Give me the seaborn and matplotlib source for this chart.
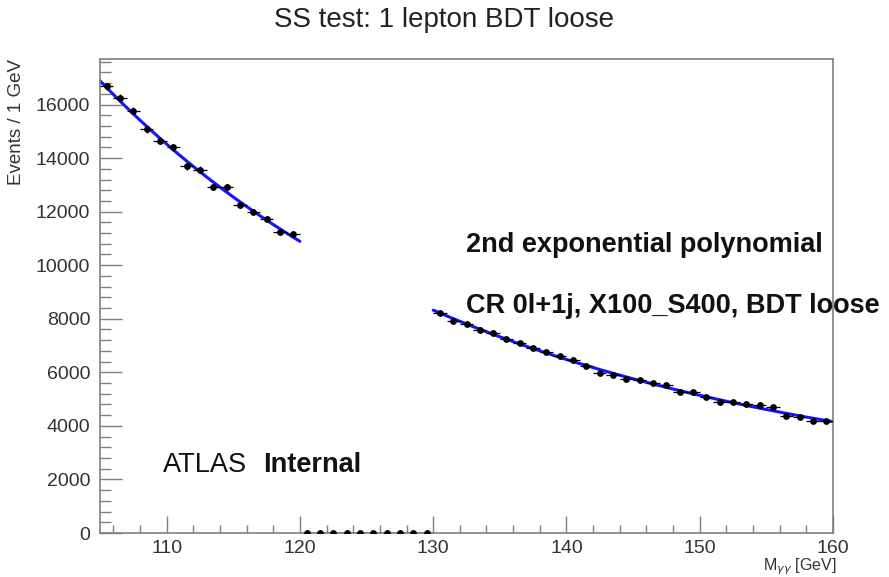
import numpy as np
import pandas as pd
import matplotlib
matplotlib.use("Agg")
import matplotlib.pyplot as plt
from matplotlib.ticker import MultipleLocator
import seaborn as sns

# Diphoton mass spectrum, 1 GeV bins (bin centres)
mass_low = [105.5, 106.5, 107.5, 108.5, 109.5, 110.5, 111.5, 112.5, 113.5, 114.5,
            115.5, 116.5, 117.5, 118.5, 119.5]
events_low = [16680, 16250, 15770, 15070, 14650, 14400, 13690, 13570, 12910, 12910,
              12230, 12000, 11720, 11250, 11170]

mass_blind = [120.5, 121.5, 122.5, 123.5, 124.5, 125.5, 126.5, 127.5, 128.5, 129.5]
events_blind = [0] * 10

mass_high = [130.5, 131.5, 132.5, 133.5, 134.5, 135.5, 136.5, 137.5, 138.5, 139.5,
             140.5, 141.5, 142.5, 143.5, 144.5, 145.5, 146.5, 147.5, 148.5, 149.5,
             150.5, 151.5, 152.5, 153.5, 154.5, 155.5, 156.5, 157.5, 158.5, 159.5]
events_high = [8220, 7900, 7820, 7590, 7480, 7260, 7080, 6900, 6760, 6600,
               6450, 6240, 5980, 5910, 5750, 5730, 5590, 5520, 5250, 5280,
               5070, 4910, 4910, 4810, 4780, 4690, 4380, 4320, 4170, 4170]

title = "SS test: 1 lepton BDT loose"
x_label = r"M$_{\gamma\gamma}$ [GeV]"
y_label = "Events / 1 GeV"

data = pd.DataFrame({
    "mass": mass_low + mass_blind + mass_high,
    "events": events_low + events_blind + events_high,
})

# Sideband fit: exp(p0 + p1*t + p2*t^2), t = m - 130
side = data[data["events"] > 0]
t = side["mass"].to_numpy() - 130.0
w = np.sqrt(side["events"].to_numpy())
coef = np.polyfit(t, np.log(side["events"].to_numpy()), 2, w=w)

def fit_curve(lo, hi):
    m = np.linspace(lo, hi, 200)
    return pd.DataFrame({"mass": m, "events": np.exp(np.polyval(coef, m - 130.0))})

sns.set_style("white")
plt.rcParams["font.family"] = ["Liberation Sans", "DejaVu Sans"]

fig = plt.figure(figsize=(8.89, 5.77), dpi=100)
ax = fig.add_axes([100 / 889, 1 - 533 / 577, 733 / 889, 474 / 577])

# Fit curve, drawn on both sidebands only
for lo, hi in [(105, 120), (130, 160)]:
    sns.lineplot(data=fit_curve(lo, hi), x="mass", y="events", ax=ax,
                 color="#1414ff", lw=2.2, zorder=2)

# Data points with Poisson errors and bin-width bars
ax.errorbar(data["mass"], data["events"], xerr=0.5, yerr=np.sqrt(data["events"]),
            fmt="none", ecolor="black", elinewidth=0.9, capsize=0, zorder=3)
sns.scatterplot(data=data, x="mass", y="events", ax=ax, color="black",
                s=24, edgecolor="black", linewidth=0, zorder=4)

ax.set_xlim(105, 160)
ax.set_ylim(0, 17700)
ax.xaxis.set_major_locator(MultipleLocator(10))
ax.xaxis.set_minor_locator(MultipleLocator(2))
ax.yaxis.set_major_locator(MultipleLocator(2000))
ax.yaxis.set_minor_locator(MultipleLocator(400))

frame_col = "#7f7f7f"
for sp in ax.spines.values():
    sp.set_color(frame_col)
    sp.set_linewidth(1.2)
ax.tick_params(axis="both", which="both", direction="in", colors=frame_col,
               labelcolor="#333333", labelsize=14, top=False, right=False,
               left=True, bottom=True)
ax.tick_params(axis="x", which="major", length=12, width=1, pad=5)
ax.tick_params(axis="x", which="minor", length=6, width=1)
ax.tick_params(axis="y", which="major", length=16, width=1, pad=7)
ax.tick_params(axis="y", which="minor", length=8, width=1)

ax.set_xlabel("")
ax.set_ylabel(y_label, fontsize=13.5, color="#333333", loc="top", labelpad=8)
fig.text(836 / 889, 1 - 570 / 577, x_label, fontsize=11.5, color="#333333",
         ha="right", va="baseline")

fig.text(0.5, 1 - 20 / 577, title, ha="center", va="center", fontsize=20,
         color="#222222")
fig.text(466 / 889, 1 - 245 / 577, "2nd exponential polynomial", fontsize=19.5,
         fontweight="bold", va="center", ha="left", color="#111111")
fig.text(466 / 889, 1 - 306 / 577, "CR 0l+1j, X100_S400, BDT loose", fontsize=19.5,
         fontweight="bold", va="center", ha="left", color="#111111")
fig.text(163 / 889, 1 - 465 / 577, "ATLAS", fontsize=19.5, va="center", ha="left",
         color="#111111")
fig.text(263 / 889, 1 - 465 / 577, "Internal", fontsize=19.5, fontweight="bold",
         va="center", ha="left", color="#111111")

fig.savefig("out.png", dpi=100, facecolor="white")
